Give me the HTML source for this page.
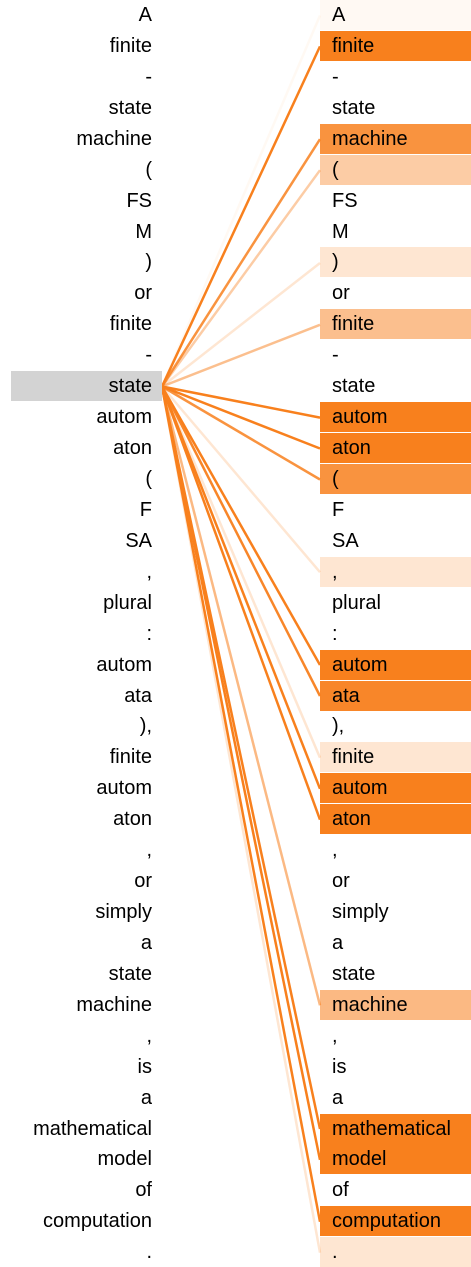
<!DOCTYPE html>
<html><head><meta charset="utf-8"><style>
body{margin:0;width:471px;height:1265px;overflow:hidden;background:#fff;font-family:"Liberation Sans",Arial,sans-serif;font-size:20px;color:#000;position:relative}
.r{position:absolute;height:30px;line-height:30px;white-space:nowrap}
.l{left:11px;width:141px;text-align:right;padding-right:10px}
.rt{left:320px;width:139px;padding-left:12px}
svg{position:absolute;left:0;top:0}
</style></head><body>
<svg width="471" height="1265">
<g stroke="#f8801d" stroke-width="2.5" fill="none">
<line x1="162" y1="386.5" x2="320" y2="15.5" stroke-opacity="0.05"/>
<line x1="162" y1="386.5" x2="320" y2="46.4"/>
<line x1="162" y1="386.5" x2="320" y2="139.2" stroke-opacity="0.85"/>
<line x1="162" y1="386.5" x2="320" y2="170.2" stroke-opacity="0.4"/>
<line x1="162" y1="386.5" x2="320" y2="263" stroke-opacity="0.2"/>
<line x1="162" y1="386.5" x2="320" y2="324.8" stroke-opacity="0.5"/>
<line x1="162" y1="386.5" x2="320" y2="417.6"/>
<line x1="162" y1="386.5" x2="320" y2="448.5"/>
<line x1="162" y1="386.5" x2="320" y2="479.5" stroke-opacity="0.85"/>
<line x1="162" y1="386.5" x2="320" y2="572.2" stroke-opacity="0.2"/>
<line x1="162" y1="386.5" x2="320" y2="665"/>
<line x1="162" y1="386.5" x2="320" y2="696" stroke-opacity="0.95"/>
<line x1="162" y1="386.5" x2="320" y2="757.8" stroke-opacity="0.2"/>
<line x1="162" y1="386.5" x2="320" y2="788.8"/>
<line x1="162" y1="386.5" x2="320" y2="819.7"/>
<line x1="162" y1="386.5" x2="320" y2="1005.3" stroke-opacity="0.55"/>
<line x1="162" y1="386.5" x2="320" y2="1129"/>
<line x1="162" y1="386.5" x2="320" y2="1159.9"/>
<line x1="162" y1="386.5" x2="320" y2="1221.8"/>
<line x1="162" y1="386.5" x2="320" y2="1252.7" stroke-opacity="0.2"/>
</g>
</svg>
<div id="c"></div>
<script>
var t=["A","finite","-","state","machine","(","FS","M",")","or","finite","-","state","autom","aton","(","F","SA",",","plural",":","autom","ata","),","finite","autom","aton",",","or","simply","a","state","machine",",","is","a","mathematical","model","of","computation","."];
var w={0:0.05,1:1,4:0.85,5:0.4,8:0.2,10:0.5,13:1,14:1,15:0.85,18:0.2,21:1,22:0.95,24:0.2,25:1,26:1,32:0.55,36:1,37:1,39:1,40:0.2};
var h="";
for(var i=0;i<t.length;i++){var y=(i*30.93).toFixed(1);
var bg=i==12?"background:#d3d3d3;":"";
h+='<div class="r l" style="top:'+y+'px;'+bg+'">'+t[i]+'</div>';
var a=w[i]||0;
h+='<div class="r rt" style="top:'+y+'px;background:rgba(248,128,29,'+a+')">'+t[i]+'</div>';}
document.getElementById("c").innerHTML=h;
</script>
</body></html>
